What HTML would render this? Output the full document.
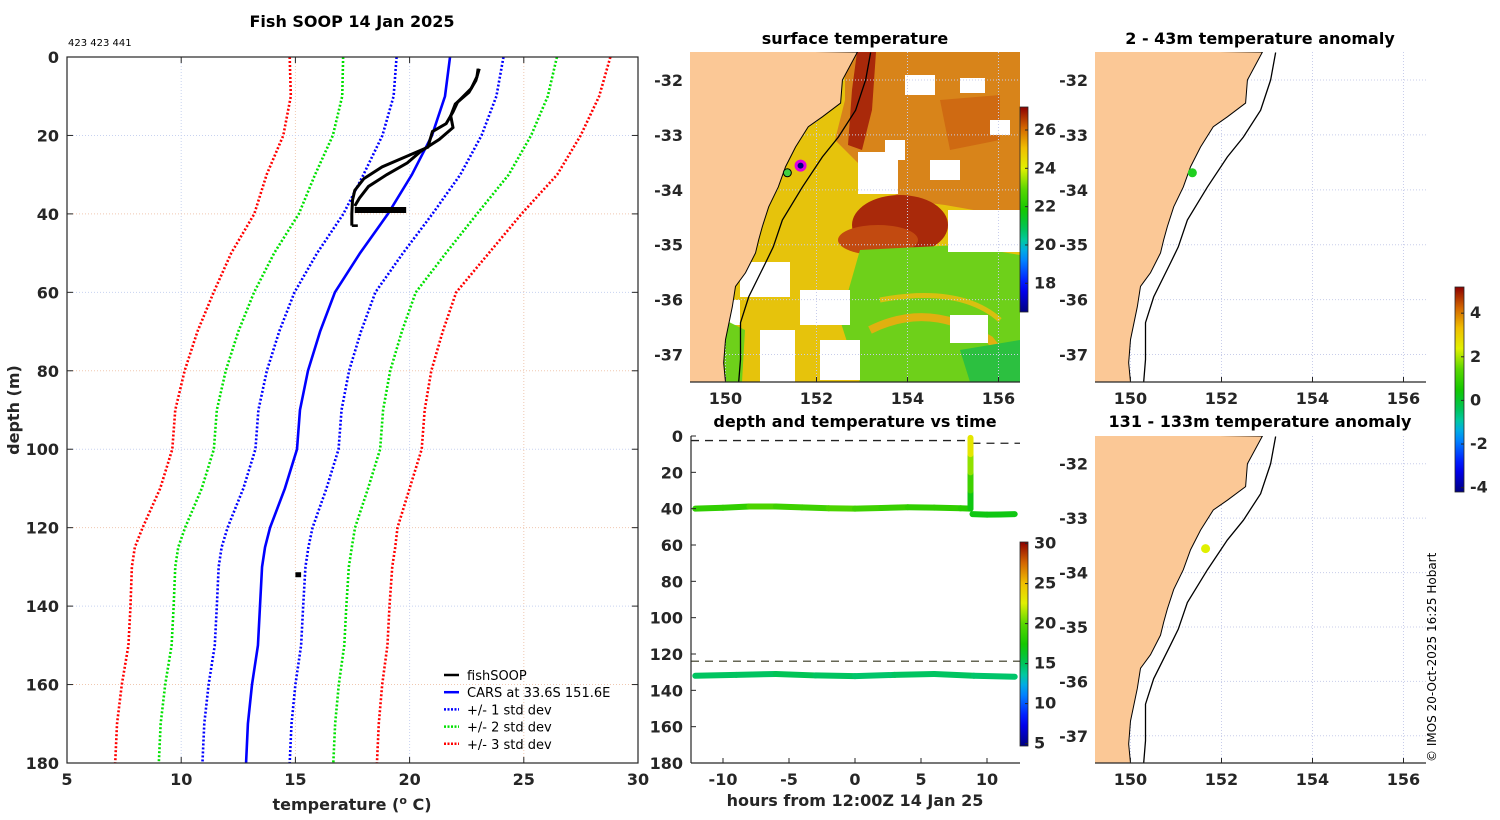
<!DOCTYPE html>
<html><head><meta charset="utf-8"><style>
html,body{margin:0;padding:0;background:#fff;}
svg{display:block;font-family:"DejaVu Sans","Liberation Sans",sans-serif;}
.t{font-weight:bold;fill:#262626;font-size:16px;}
.ti{font-weight:bold;fill:#000;font-size:16px;}
</style></head><body>
<svg id="s" width="1500" height="820" xmlns="http://www.w3.org/2000/svg"></svg>
<script>
// ---------- data ----------
const depths=[0,10,20,30,40,50,60,70,80,90,100,110,120,125,130,140,150,160,170,180];
const carsMean=[21.77,21.55,20.98,20.1,19.05,17.83,16.73,16.08,15.55,15.2,15.07,14.54,13.89,13.67,13.54,13.45,13.36,13.1,12.92,12.84];
const carsSd=[2.34,2.25,2.17,2.12,1.95,1.88,1.77,1.79,1.80,1.82,1.82,1.82,1.86,1.90,1.90,1.89,1.89,1.90,1.91,1.91];
const fishDepth1=[3,5,8,11.5,14,17,19,23,26,28,31,34,36.5,40,43];
const fishTemp1=[23.0,22.95,22.7,22.1,21.9,21.6,21.0,20.8,19.6,18.8,18.0,17.6,17.5,17.47,17.47];
const fishDepth2=[3,6,9,12,15,18,21,24,27,30,33,36,38];
const fishTemp2=[23.05,22.9,22.6,22.0,21.8,21.9,21.3,20.5,19.9,19.0,18.2,17.8,17.6];
const blobTemps=[17.6,19.85];const blobDepth=39;
const deepBlobTemps=[15.0,15.25];const deepBlobDepth=132;
const xTicks=[5,10,15,20,25,30];
const yTicks=[0,20,40,60,80,100,120,140,160,180];
// time series
const upTimes=[-12.1,-10,-8,-6,-4,-2,0,2,4,6,8,8.75];
const upDepths=[40,39.5,38.8,38.8,39.3,39.8,40,39.6,39.2,39.4,39.8,40];
const upTemps=[18.5,18.5,19.5,19,19,19.5,19,18.8,18.5,18.5,18.2,18];
const vertDepths=[40,30,20,10,1];
const vertTemps=[17,19,21,23,24];
const afterTimes=[8.9,10,11,12.1];
const afterDepths=[43,43.3,43.2,43];
const afterTemps=[17,17,17,17];
const lowTimes=[-12.1,-9,-6,-3,0,3,6,9,12.1];
const lowDepths=[132,131.5,131,131.8,132.2,131.5,131,132,132.5];
const lowTemps=[15,15,15.2,15,14.8,15,15,14.8,14.8];
const tTicks=[-10,-5,0,5,10];
// map
const coastLon=[152.9,152.57,152.53,152.13,151.82,151.54,151.32,151.16,150.95,150.81,150.73,150.66,150.44,150.22,150.15,150.0,149.96,150.0];
const coastLat=[-31.49,-32,-32.42,-32.67,-32.85,-33.22,-33.58,-33.95,-34.31,-34.67,-34.91,-35.15,-35.51,-35.76,-36.13,-36.73,-37.15,-37.5];
const isoLon=[153.19,153.08,152.86,152.48,152.13,151.69,151.25,151.05,150.88,150.51,150.33,150.33,150.29];
const isoLat=[-31.5,-32,-32.55,-33.04,-33.4,-33.95,-34.55,-35.04,-35.33,-35.95,-36.42,-37.09,-37.5];
const lonTicks=[150,152,154,156];const latTicks=[-32,-33,-34,-35,-36,-37];
const stnLon=151.65, stnLat=-33.56, startLon=151.36, startLat=-33.69;

// ---------- helpers ----------
const S=document.getElementById('s');const NS='http://www.w3.org/2000/svg';
function el(tag,attrs,parent,text){const e=document.createElementNS(NS,tag);for(const k in attrs)e.setAttribute(k,attrs[k]);if(text!==undefined)e.textContent=text;(parent||S).appendChild(e);return e;}
function cmap(f){f=Math.max(0,Math.min(1,f));const st=[[0,[0,0,128]],[0.12,[0,0,255]],[0.28,[0,160,255]],[0.35,[0,200,160]],[0.42,[0,195,70]],[0.5,[20,200,0]],[0.6,[90,215,0]],[0.7,[225,240,0]],[0.8,[240,190,0]],[0.9,[210,100,0]],[1,[140,0,0]]];
for(let i=1;i<st.length;i++){if(f<=st[i][0]){const a=st[i-1],b=st[i];const r=(f-a[0])/(b[0]-a[0]);return 'rgb('+a[1].map((v,j)=>Math.round(v+(b[1][j]-v)*r)).join(',')+')';}}return 'rgb(140,0,0)';}
function gradient(id){const g=el('linearGradient',{id:id,x1:0,y1:1,x2:0,y2:0},defs);for(let i=0;i<=20;i++)el('stop',{offset:i/20,'stop-color':cmap(i/20)},g);}
const defs=el('defs',{});
gradient('jet');

// ---------- main profile ----------
const g1=el('g',{});
const X0=67,X1=638,Y0=57,Y1=763;
const xT=t=>X0+(t-5)*(X1-X0)/25, yD=d=>Y0+d*(Y1-Y0)/180;
el('clipPath',{id:'c1'},defs);el('rect',{x:X0,y:Y0,width:X1-X0,height:Y1-Y0},defs.lastChild);
xTicks.slice(1,-1).forEach((t,i)=>{const l=el('line',{x1:xT(t),x2:xT(t),y1:Y0,y2:Y1,stroke:i%2?'#f0c8b0':'#c8d2f0','stroke-dasharray':'1,2'},g1);});
yTicks.slice(1,-1).forEach((d,i)=>{const l=el('line',{x1:X0,x2:X1,y1:yD(d),y2:yD(d),stroke:i%2?'#f0c8b0':'#c8d2f0','stroke-dasharray':'1,2'},g1);});
const cl=el('g',{'clip-path':'url(#c1)'},g1);
function pl(xs,ys,attrs,name,parent){const p=el('polyline',Object.assign({points:xs.map((x,i)=>x+','+ys[i]).join(' '),fill:'none'},attrs),parent||cl);return p;}
[[3,'#ff0000'],[2,'#00e000'],[1,'#0000ff']].forEach(([k,c])=>{
 pl(depths.map((d,i)=>xT(carsMean[i]-k*carsSd[i])),depths.map(yD),{stroke:c,'stroke-width':2.6,'stroke-dasharray':'2,2'},'std-dev-'+k+'-lower');
 pl(depths.map((d,i)=>xT(carsMean[i]+k*carsSd[i])),depths.map(yD),{stroke:c,'stroke-width':2.6,'stroke-dasharray':'2,2'},'std-dev-'+k+'-upper');
});
pl(carsMean.map(xT),depths.map(yD),{stroke:'#0000ff','stroke-width':2.6},'cars-mean-line');
pl(fishTemp1.map(xT),fishDepth1.map(yD),{stroke:'#000','stroke-width':3},'fishsoop-profile-down');
pl(fishTemp2.map(xT),fishDepth2.map(yD),{stroke:'#000','stroke-width':3},'fishsoop-profile-up');
pl([xT(fishTemp1[fishTemp1.length-1]),xT(fishTemp1[fishTemp1.length-1])+6],[yD(43),yD(43)],{stroke:'#000','stroke-width':2.6},'fishsoop-bottom-tick');
pl(blobTemps.map(xT),[yD(blobDepth),yD(blobDepth)],{stroke:'#000','stroke-width':6},'fishsoop-stationary-40m');
pl(deepBlobTemps.map(xT),[yD(deepBlobDepth),yD(deepBlobDepth)],{stroke:'#000','stroke-width':5},'fishsoop-stationary-132m');
el('rect',{x:X0,y:Y0,width:X1-X0,height:Y1-Y0,fill:'none',stroke:'#262626','stroke-width':1.2},g1);
xTicks.forEach(t=>{el('line',{x1:xT(t),x2:xT(t),y1:Y1,y2:Y1-6,stroke:'#262626'},g1);el('line',{x1:xT(t),x2:xT(t),y1:Y0,y2:Y0+6,stroke:'#262626'},g1);
 const tx=el('text',{x:xT(t),y:Y1+22,class:'t','text-anchor':'middle'},g1,t);});
yTicks.forEach(d=>{el('line',{x1:X0,x2:X0+6,y1:yD(d),y2:yD(d),stroke:'#262626'},g1);el('line',{x1:X1,x2:X1-6,y1:yD(d),y2:yD(d),stroke:'#262626'},g1);
 const tx=el('text',{x:X0-8,y:yD(d)+6,class:'t','text-anchor':'end'},g1,d);});
let tt=el('text',{x:352,y:27,class:'ti','text-anchor':'middle','font-size':'17'},g1,'Fish SOOP 14 Jan 2025');
tt=el('text',{x:68,y:46,'font-size':'10',fill:'#000'},g1,'423 423 441');
tt=el('text',{x:352,y:810,class:'t','text-anchor':'middle','font-size':'16'},g1);tt.innerHTML='temperature (<tspan dy="-6" font-size="11">o</tspan><tspan dy="6"> C)</tspan>';
tt=el('text',{x:19,y:410,class:'t','text-anchor':'middle','font-size':'16',transform:'rotate(-90 19 410)'},g1,'depth (m)');
// legend
const lg=el('g',{},g1);
[['fishSOOP','#000',''],['CARS at 33.6S 151.6E','#0000ff',''],['+/- 1 std dev','#0000ff','2,1.5'],['+/- 2 std dev','#00e000','2,1.5'],['+/- 3 std dev','#ff0000','2,1.5']].forEach((e,i)=>{
 const y=675+i*17.2;const ge=el('g',{},lg);
 el('line',{x1:444,x2:459,y1:y,y2:y,stroke:e[1],'stroke-width':2.5,'stroke-dasharray':e[2]||'none'},ge);
 el('text',{x:467,y:y+5,'font-size':'13',fill:'#000'},ge,e[0]);});

// ---------- maps ----------
function mapPanel(name,x0,y0,w,h,drawInside){
 const g=el('g',{});
 const lon0=149.22,lat0=-31.49,lat1=-37.5;
 const px=l=>x0+(l-lon0)*45.5, py=l=>y0+(lat0-l)*h/(lat0-lat1);
 const id='clip'+name;el('clipPath',{id:id},defs);el('rect',{x:x0,y:y0,width:w,height:h},defs.lastChild);
 const c=el('g',{'clip-path':'url(#'+id+')'},g);
 drawInside&&drawInside(c,px,py);
 lonTicks.forEach(l=>el('line',{x1:px(l),x2:px(l),y1:y0,y2:y0+h,stroke:'#c8cdea','stroke-dasharray':'1,2'},c));
 latTicks.forEach(l=>el('line',{x1:x0,x2:x0+w,y1:py(l),y2:py(l),stroke:'#c8cdea','stroke-dasharray':'1,2'},c));
 const land=el('polygon',{points:coastLon.map((l,i)=>px(l)+','+py(coastLat[i])).join(' ')+' '+(x0-2)+','+(y0+h+2)+' '+(x0-2)+','+(y0-2),fill:'#fbc896',stroke:'#000','stroke-width':1},c);
 
 const iso=el('polyline',{points:isoLon.map((l,i)=>px(l)+','+py(isoLat[i])).join(' '),fill:'none',stroke:'#000','stroke-width':1.3},c);
 
 el('line',{x1:x0,x2:x0+w,y1:y0+h,y2:y0+h,stroke:'#262626','stroke-width':1.2},g);
 lonTicks.forEach(l=>{el('line',{x1:px(l),x2:px(l),y1:y0+h,y2:y0+h-5,stroke:'#262626'},g);const t=el('text',{x:px(l),y:y0+h+22,class:'t','text-anchor':'middle'},g,l);});
 latTicks.forEach(l=>{const t=el('text',{x:x0-7,y:py(l)+6,class:'t','text-anchor':'end'},g,l);});
 return {g,px,py};
}
// SST map
const m1=mapPanel('sst-map',690,52,330,330,(c,px,py)=>{
 const P=(a)=>a.map(p=>p.join(',')).join(' ');
 el('rect',{x:690,y:52,width:330,height:330,fill:'#e6c30c'},c);
 el('polygon',{points:P([[845,52],[1020,52],[1020,212],[985,212],[945,205],[905,200],[880,185],[855,160],[835,140],[845,100]]),fill:'#d8841a'},c);
 el('polygon',{points:P([[857,52],[876,52],[872,110],[862,150],[848,145],[852,90]]),fill:'#a9290a'},c);
 el('ellipse',{cx:900,cy:225,rx:48,ry:30,fill:'#a9290a'},c);
 el('ellipse',{cx:878,cy:240,rx:40,ry:15,fill:'#c24a10'},c);
 el('polygon',{points:P([[940,100],[1000,95],[1000,140],[950,150]]),fill:'#cf6a12'},c);
 el('polygon',{points:P([[860,250],[960,245],[1020,255],[1020,382],[860,382],[840,320]]),fill:'#6ed01a'},c);
 el('path',{d:'M870,330 Q930,300 990,340 Q1005,360 1020,352',fill:'none',stroke:'#e0b010','stroke-width':8},c);
 el('path',{d:'M880,300 Q960,285 1000,320',fill:'none',stroke:'#d8c010','stroke-width':5},c);
 el('polygon',{points:P([[960,350],[1020,340],[1020,382],[970,382]]),fill:'#2cc040'},c);
 [[858,152,40,42],[948,210,72,42],[740,262,50,35],[800,290,50,35],[760,330,35,52],[820,340,40,40],[905,75,30,20],[960,78,25,15],[930,160,30,20],[720,300,20,25],[990,120,20,15],[950,315,38,28],[885,140,20,20]].forEach(r=>{const w=el('rect',{x:r[0],y:r[1],width:r[2],height:r[3],fill:'#fff'},c);});
 el('polygon',{points:P([[725,320],[745,330],[742,382],[720,382]]),fill:'#6ed01a'},c);
});
let mk=el('circle',{cx:m1.px(stnLon),cy:m1.py(stnLat),r:4.5,fill:'#000080',stroke:'#e000e0','stroke-width':3},m1.g);
mk=el('circle',{cx:m1.px(startLon),cy:m1.py(startLat),r:4,fill:'#40d040',stroke:'#000','stroke-width':1},m1.g);
tt=el('text',{x:855,y:44,class:'ti','text-anchor':'middle'},m1.g,'surface temperature');
function colorbar(name,x,y,w,h,vmin,vmax,ticks,parent){const g=el('g',{},parent);
 el('rect',{x:x,y:y,width:w,height:h,fill:'url(#jet)',stroke:'#262626','stroke-width':0.8},g);
 ticks.forEach(t=>{const yy=y+h-(t-vmin)/(vmax-vmin)*h;el('line',{x1:x+w-3,x2:x+w,y1:yy,y2:yy,stroke:'#262626'},g);const tx=el('text',{x:x+w+6,y:yy+5,class:'t','font-size':'13'},g,t);});}
colorbar('sst-colorbar',1020,107,8,205,16.5,27.2,[18,20,22,24,26]);

// anomaly maps
const m2=mapPanel('anomaly-map-surface',1095,52,331,330);
mk=el('circle',{cx:m2.px(startLon),cy:m2.py(startLat),r:4.5,fill:'#20d020'},m2.g);
tt=el('text',{x:1260,y:44,class:'ti','text-anchor':'middle'},m2.g,'2 - 43m temperature anomaly');
const m3=mapPanel('anomaly-map-deep',1095,436,331,327);
mk=el('circle',{cx:m3.px(stnLon),cy:m3.py(stnLat),r:4.5,fill:'#e0f000'},m3.g);
tt=el('text',{x:1260,y:427,class:'ti','text-anchor':'middle'},m3.g,'131 - 133m temperature anomaly');
colorbar('anomaly-colorbar',1455,287,9,205,-4.2,5.2,[-4,-2,0,2,4]);

// ---------- time series ----------
const g3=el('g',{});
const TX0=691,TX1=1020,TY0=436,TY1=763;
const xH=h=>855+h*13.2, yZ=d=>TY0+d*(TY1-TY0)/180;
el('line',{x1:TX0,x2:xH(8.7),y1:yZ(2.5),y2:yZ(2.5),stroke:'#222','stroke-dasharray':'8,6','stroke-width':1.3},g3);
el('line',{x1:xH(8.9),x2:TX1,y1:yZ(4),y2:yZ(4),stroke:'#222','stroke-dasharray':'8,6','stroke-width':1.3},g3);
el('line',{x1:TX0,x2:TX1,y1:yZ(124),y2:yZ(124),stroke:'#665','stroke-dasharray':'8,6','stroke-width':1.5},g3);
function tsSeg(xs,ys,ts,name){for(let i=0;i<xs.length-1;i++){const l=el('line',{x1:xs[i],y1:ys[i],x2:xs[i+1],y2:ys[i+1],stroke:cmap((ts[i]-5)/25),'stroke-width':6,'stroke-linecap':'round'},g3);}}
tsSeg(upTimes.map(xH),upDepths.map(yZ),upTemps,'track-40m');
tsSeg(vertDepths.map(()=>xH(8.75)),vertDepths.map(yZ),vertTemps,'track-ascent');
tsSeg(afterTimes.map(xH),afterDepths.map(yZ),afterTemps,'track-43m');
tsSeg(lowTimes.map(xH),lowDepths.map(yZ),lowTemps,'track-132m');
el('line',{x1:TX0,x2:TX0,y1:TY0,y2:TY1,stroke:'#262626','stroke-width':1.2},g3);
el('line',{x1:TX0,x2:TX1,y1:TY1,y2:TY1,stroke:'#262626','stroke-width':1.2},g3);
tTicks.forEach(h=>{el('line',{x1:xH(h),x2:xH(h),y1:TY1,y2:TY1-5,stroke:'#262626'},g3);const t=el('text',{x:xH(h),y:TY1+22,class:'t','text-anchor':'middle'},g3,h);});
yTicks.forEach(d=>{el('line',{x1:TX0,x2:TX0+5,y1:yZ(d),y2:yZ(d),stroke:'#262626'},g3);const t=el('text',{x:TX0-8,y:yZ(d)+6,class:'t','text-anchor':'end'},g3,d);});
tt=el('text',{x:855,y:427,class:'ti','text-anchor':'middle'},g3,'depth and temperature vs time');
tt=el('text',{x:855,y:806,class:'t','text-anchor':'middle','font-size':'16'},g3,'hours from 12:00Z 14 Jan 25');
colorbar('time-colorbar',1020,542,8,204,4.7,30.2,[5,10,15,20,25,30],g3);

tt=el('text',{x:1436,y:762,'font-size':'12',fill:'#000',transform:'rotate(-90 1436 762)'},S,'© IMOS 20-Oct-2025 16:25 Hobart');

</script>
</body></html>
